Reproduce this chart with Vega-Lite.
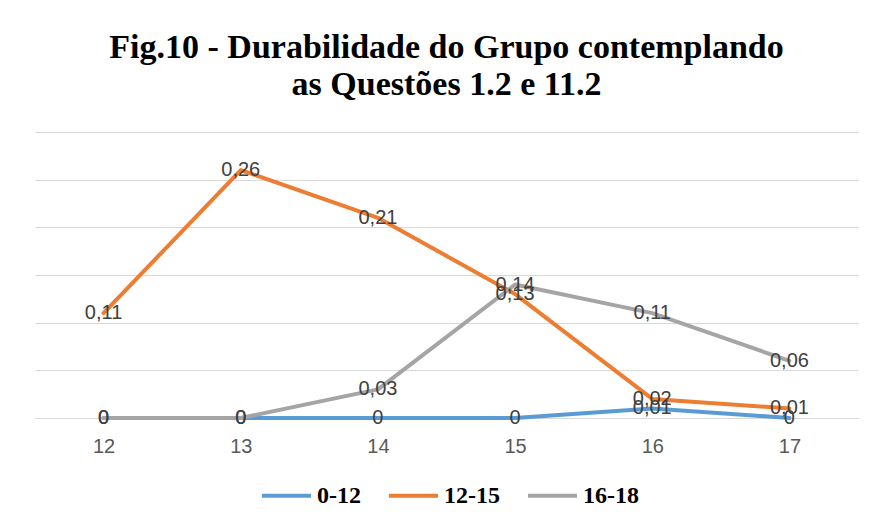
{
  "$schema": "https://vega.github.io/schema/vega-lite/v6.json",
  "width": 823,
  "height": 286,
  "autosize": {"type": "none"},
  "padding": {"left": 35, "top": 132, "right": 14, "bottom": 109},
  "background": "white",
  "title": {
    "text": ["Fig.10 - Durabilidade  do Grupo  contemplando", "as Questões 1.2 e 11.2"],
    "font": "Liberation Serif",
    "fontSize": 34,
    "fontWeight": "bold",
    "color": "#000000",
    "anchor": "middle",
    "frame": "group",
    "baseline": "bottom",
    "lineHeight": 37,
    "offset": -4
  },
  "config": {
    "locale": {"number": {"decimal": ",", "thousands": ".", "grouping": [3], "currency": ["", ""]}},
    "view": {"stroke": null}
  },
  "data": {
    "values": [
      {"idade": 12, "grupo": "0-12", "valor": 0},
      {"idade": 13, "grupo": "0-12", "valor": 0},
      {"idade": 14, "grupo": "0-12", "valor": 0},
      {"idade": 15, "grupo": "0-12", "valor": 0},
      {"idade": 16, "grupo": "0-12", "valor": 0.01},
      {"idade": 17, "grupo": "0-12", "valor": 0},
      {"idade": 12, "grupo": "12-15", "valor": 0.11},
      {"idade": 13, "grupo": "12-15", "valor": 0.26},
      {"idade": 14, "grupo": "12-15", "valor": 0.21},
      {"idade": 15, "grupo": "12-15", "valor": 0.13},
      {"idade": 16, "grupo": "12-15", "valor": 0.02},
      {"idade": 17, "grupo": "12-15", "valor": 0.01},
      {"idade": 12, "grupo": "16-18", "valor": 0},
      {"idade": 13, "grupo": "16-18", "valor": 0},
      {"idade": 14, "grupo": "16-18", "valor": 0.03},
      {"idade": 15, "grupo": "16-18", "valor": 0.14},
      {"idade": 16, "grupo": "16-18", "valor": 0.11},
      {"idade": 17, "grupo": "16-18", "valor": 0.06}
    ]
  },
  "encoding": {
    "x": {
      "field": "idade",
      "type": "ordinal",
      "scale": {"type": "point", "padding": 0.5},
      "axis": {
        "title": null,
        "labelAngle": 0,
        "ticks": false,
        "domain": true,
        "domainColor": "#D9D9D9",
        "domainWidth": 1,
        "labelFont": "Liberation Sans",
        "labelFontSize": 20,
        "labelColor": "#595959",
        "labelPadding": 18,
        "labelBaseline": "top"
      }
    },
    "y": {
      "field": "valor",
      "type": "quantitative",
      "scale": {"domain": [0, 0.3], "nice": false},
      "axis": {
        "title": null,
        "values": [0, 0.05, 0.1, 0.15, 0.2, 0.25, 0.3],
        "labels": false,
        "ticks": false,
        "domain": false,
        "grid": true,
        "gridColor": "#D9D9D9",
        "gridWidth": 1
      }
    }
  },
  "layer": [
    {
      "mark": {"type": "line", "strokeWidth": 4, "strokeCap": "round", "strokeJoin": "round"},
      "encoding": {
        "color": {
          "field": "grupo",
          "type": "nominal",
          "scale": {"domain": ["0-12", "12-15", "16-18"], "range": ["#5B9BD5", "#ED7D31", "#A5A5A5"]},
          "legend": {
            "title": null,
            "orient": "none",
            "legendX": 225,
            "legendY": 337,
            "direction": "horizontal",
            "symbolType": "stroke",
            "symbolSize": 2401,
            "symbolStrokeWidth": 4,
            "labelFont": "Liberation Serif",
            "labelFontSize": 24,
            "labelFontWeight": "bold",
            "labelColor": "#000000",
            "labelOffset": 4,
            "columnPadding": 20
          }
        }
      }
    },
    {
      "mark": {"type": "text", "font": "Liberation Sans", "fontSize": 20, "color": "#404040", "baseline": "middle", "align": "center"},
      "encoding": {
        "text": {"field": "valor", "type": "quantitative", "format": ".2~f"},
        "detail": {"field": "grupo", "type": "nominal"}
      }
    }
  ]
}
